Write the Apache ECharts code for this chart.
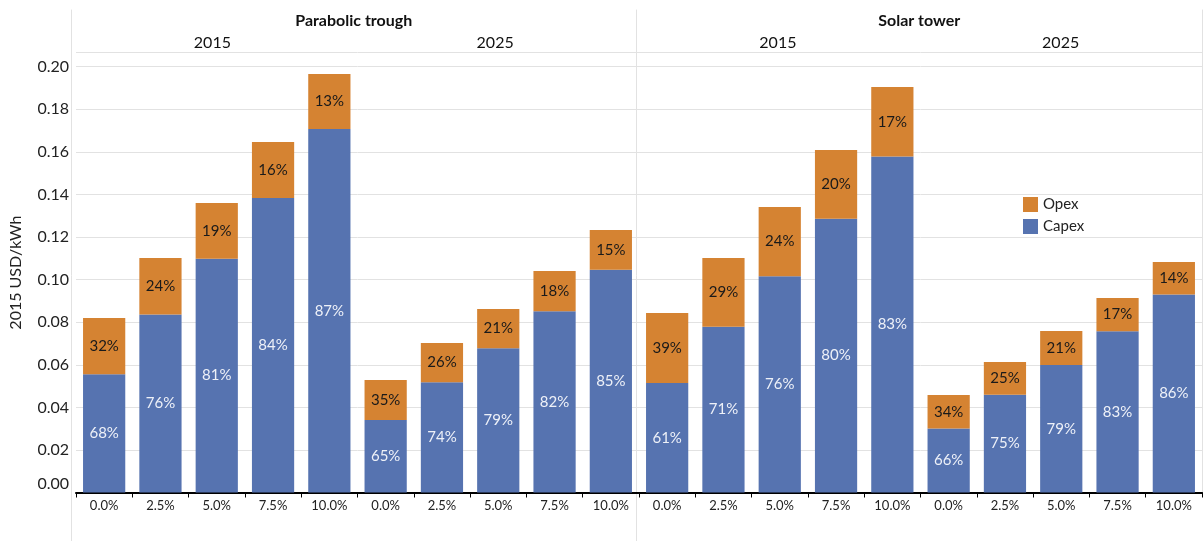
<!DOCTYPE html>
<html><head><meta charset="utf-8">
<script src="https://cdn.jsdelivr.net/npm/echarts@6/dist/echarts.min.js"></script>
<style>html,body{margin:0;padding:0;background:#fff}#c{width:1204px;height:541px}</style>
</head><body><div id="c"></div>
<script>
const categories = ['0.0%','2.5%','5.0%','7.5%','10.0%','0.0%','2.5%','5.0%','7.5%','10.0%','0.0%','2.5%','5.0%','7.5%','10.0%','0.0%','2.5%','5.0%','7.5%','10.0%'];
const groups = ['Parabolic trough','Solar tower'];
const years = ['2015','2025','2015','2025'];
const capex = [0.0556,0.0836,0.1098,0.1383,0.1708,0.0341,0.0518,0.0678,0.0852,0.1046,0.0514,0.0779,0.1016,0.1286,0.1578,0.0301,0.0459,0.0599,0.0758,0.0930];
const opex  = [0.0264,0.0265,0.0262,0.0263,0.0258,0.0187,0.0184,0.0184,0.0188,0.0187,0.0329,0.0322,0.0325,0.0323,0.0327,0.0157,0.0154,0.0160,0.0156,0.0153];
const capexLabels = ['68%','76%','81%','84%','87%','65%','74%','79%','82%','85%','61%','71%','76%','80%','83%','66%','75%','79%','83%','86%'];
const opexLabels  = ['32%','24%','19%','16%','13%','35%','26%','21%','18%','15%','39%','29%','24%','20%','17%','34%','25%','21%','17%','14%'];
const yTicks = [0,0.02,0.04,0.06,0.08,0.10,0.12,0.14,0.16,0.18,0.20];

const FONT = 'Lato';
const GRID_LINE = '#e2e2e2';
const chart = echarts.init(document.getElementById('c'));
const lineAxis = (gridIndex, position) => ({
  type: 'value', gridIndex, position, min: 0, max: 1,
  axisLine: {show: true, onZero: false, lineStyle: {color: GRID_LINE, width: 1}},
  axisTick: {show: false}, axisLabel: {show: false}, splitLine: {show: false}
});
chart.setOption({
  animation: false,
  textStyle: {fontFamily: FONT},
  grid: [
    {left: 71, right: 2, top: 52.7, bottom: 48.5},
    {left: 71, right: 2, top: 10, height: 42.7},
    {left: 71, right: 567.3, top: 10, bottom: 0}
  ],
  legend: {
    data: ['Opex','Capex'], orient: 'vertical', left: 1018, top: 192,
    itemWidth: 15, itemHeight: 15, itemGap: 7, icon: 'rect',
    textStyle: {fontFamily: FONT, fontSize: 15, color: '#222'}
  },
  xAxis: [
    {type: 'category', gridIndex: 0, data: categories,
     axisLine: {lineStyle: {color: '#000', width: 2}},
     axisTick: {show: true, length: 5, lineStyle: {color: '#000', width: 1}},
     axisLabel: {fontFamily: FONT, fontSize: 13, color: '#222', margin: 7, interval: 0},
     splitLine: {show: false}},
    {type: 'category', gridIndex: 1, data: groups, position: 'top',
     axisLine: {show: false}, axisTick: {show: false}, splitLine: {show: false},
     axisLabel: {inside: true, margin: 3, fontFamily: FONT, fontSize: 16, fontWeight: 'bold', color: '#111'}},
    {type: 'category', gridIndex: 1, data: years, position: 'top',
     axisLine: {show: false}, axisTick: {show: false}, splitLine: {show: false},
     axisLabel: {inside: true, margin: 25, fontFamily: FONT, fontSize: 16, color: '#111'}},
    {type: 'value', gridIndex: 2, show: false, min: 0, max: 1}
  ],
  yAxis: [
    {type: 'value', gridIndex: 0, min: 0, max: 0.2066, interval: 0.02,
     name: '2015 USD/kWh', nameLocation: 'middle', nameGap: 52, nameRotate: 90,
     nameTextStyle: {fontFamily: FONT, fontSize: 16, color: '#222'},
     axisLine: {show: false}, axisTick: {show: false},
     splitLine: {show: true, lineStyle: {color: GRID_LINE, width: 1}},
     axisLabel: {fontFamily: FONT, fontSize: 16, color: '#222', margin: 7,
       formatter: v => {
         const t = yTicks.find(x => Math.abs(x - v) < 1e-6);
         if (t === undefined) return '';
         return t === 0 ? '{z|0.00}' : t.toFixed(2);
       },
       rich: {z: {fontFamily: FONT, fontSize: 16, color: '#222', padding: [0,0,18,0]}}}},
    lineAxis(0, 'right'),
    lineAxis(1, 'right'),
    lineAxis(2, 'left'),
    lineAxis(2, 'right')
  ],
  series: [
    {name: 'Capex', type: 'bar', stack: 'cost', xAxisIndex: 0, yAxisIndex: 0, barWidth: '75%',
     data: capex, itemStyle: {color: '#5673b0'},
     label: {show: true, position: 'inside', fontFamily: FONT, fontSize: 15, color: '#eef1f8',
       formatter: p => capexLabels[p.dataIndex]}},
    {name: 'Opex', type: 'bar', stack: 'cost', xAxisIndex: 0, yAxisIndex: 0, barWidth: '75%',
     data: opex, itemStyle: {color: '#d58332'},
     label: {show: true, position: 'inside', fontFamily: FONT, fontSize: 15, color: '#1a1a1a',
       formatter: p => opexLabels[p.dataIndex]}}
  ]
});
</script></body></html>
